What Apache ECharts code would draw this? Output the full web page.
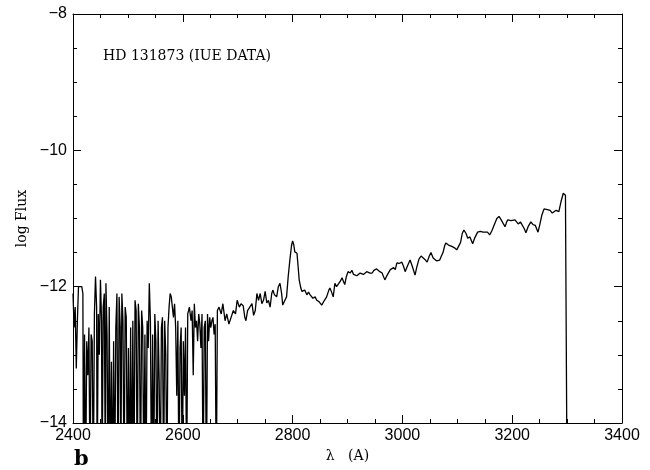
<!DOCTYPE html>
<html>
<head>
<meta charset="utf-8">
<script src="https://cdn.jsdelivr.net/npm/echarts@6/dist/echarts.min.js"></script>
<style>html,body{margin:0;padding:0;background:#fff}#c{width:650px;height:470px}</style>
</head>
<body>
<div id="c"></div>
<script>
// Wavelength (Angstrom) and log flux. -15 = dips below the plot floor.
var noisyWave = [2400,2402,2404,2406,2408,2410,2413,2416,2418,2419,2421,2423,2425,2427,2429,2431,2433,2435,2437,2439,2441,2443,2444,2446,2448,2450,2452,2453,2455,2457,2459,2460,2462,2464,2466,2468,2470,2472,2474,2476,2478,2480,2482,2484,2486,2487,2489,2491,2493,2495,2497,2499,2501,2503,2505,2507,2509,2511,2513,2515,2517,2519,2521,2523,2525,2527,2529,2531,2533,2535,2537,2539,2541,2543,2545,2547,2549,2551,2553,2555,2557,2559,2561,2563,2565,2567,2569,2571,2573,2575,2577,2579,2581,2583,2585,2587,2589,2591,2593,2595,2597,2599,2601,2603,2605,2607,2609,2612,2615,2617,2619,2621,2623,2625,2627,2629,2631,2633,2635,2637,2639,2641,2643,2645,2647,2649,2651,2653,2655,2657,2659,2661,2663];
var noisyFlux = [-12.1,-12.6,-12.3,-13.2,-12.5,-12.0,-12.0,-12.0,-12.1,-15,-12.7,-15,-12.8,-13.3,-12.6,-15,-12.7,-12.8,-15,-12.4,-11.85,-12.3,-15,-12.4,-13.0,-11.9,-12.5,-15,-12.3,-12.1,-15,-11.95,-12.7,-15,-12.3,-15,-13.1,-15,-12.8,-15,-12.6,-12.1,-15,-12.15,-12.6,-15,-12.1,-12.5,-15,-12.3,-12.45,-15,-12.9,-15,-12.6,-15,-12.5,-15,-12.2,-12.35,-15,-12.25,-12.6,-15,-12.35,-12.6,-15,-12.7,-15,-12.5,-12.9,-11.95,-12.5,-15,-12.7,-15,-12.4,-12.8,-15,-12.5,-13.4,-15,-12.6,-12.45,-15,-12.5,-13.0,-15,-12.6,-12.3,-12.1,-12.15,-12.3,-12.45,-12.25,-12.6,-13.6,-12.5,-15,-12.9,-12.6,-15,-12.8,-13.6,-12.6,-15,-12.4,-12.3,-12.5,-12.35,-13.3,-12.25,-12.6,-12.5,-12.8,-12.4,-12.55,-12.9,-12.4,-15,-12.6,-12.5,-15,-12.4,-12.8,-12.45,-12.6,-12.5,-12.45,-12.7,-12.55,-15,-12.35];
var contWave = [2666,2670,2673,2677,2680,2684,2688,2692,2696,2699,2703,2706,2710,2713,2715,2718,2722,2726,2729,2732,2735,2738,2741,2744,2747,2750,2753,2756,2759,2762,2764,2767,2771,2774,2777,2780,2782,2786,2789,2792,2795,2798,2800,2802,2804,2808,2810,2812,2815,2817,2819,2822,2826,2829,2832,2835,2837,2841,2844,2848,2853,2858,2862,2866,2868,2871,2874,2877,2880,2883,2887,2890,2893,2895,2898,2901,2905,2908,2911,2914,2917,2919,2923,2926,2929,2932,2935,2937,2941,2945,2948,2950,2953,2955,2959,2963,2966,2968,2971,2974,2978,2981,2984,2987,2990,2994,2999,3002,3005,3009,3014,3018,3023,3026,3030,3034,3037,3041,3045,3049,3052,3056,3062,3068,3071,3074,3077,3079,3084,3090,3095,3099,3101,3106,3109,3112,3116,3119,3123,3128,3132,3137,3142,3147,3150,3155,3159,3163,3167,3172,3176,3180,3184,3187,3190,3192,3198,3205,3208,3211,3215,3218,3222,3225,3229,3234,3238,3242,3247,3250,3254,3258,3264,3269,3273,3276,3280,3285,3289,3293,3297,3299,3300];
var contFlux = [-12.3,-12.4,-12.25,-12.5,-12.4,-12.55,-12.45,-12.35,-12.4,-12.2,-12.3,-12.25,-12.28,-12.45,-12.5,-12.35,-12.3,-12.25,-12.42,-12.35,-12.1,-12.2,-12.1,-12.25,-12.2,-12.07,-12.24,-12.2,-12.3,-12.1,-12.05,-12.12,-12.15,-12.0,-11.95,-12.1,-12.27,-12.2,-12.15,-11.85,-11.61,-11.4,-11.33,-11.38,-11.49,-11.51,-11.7,-11.9,-12.02,-12.07,-12.08,-12.05,-12.12,-12.08,-12.12,-12.1,-12.17,-12.15,-12.2,-12.22,-12.27,-12.2,-12.15,-12.05,-12.02,-12.08,-12.15,-11.95,-12.0,-12.02,-11.92,-11.87,-11.93,-11.97,-11.85,-11.78,-11.8,-11.76,-11.82,-11.8,-11.84,-11.83,-11.8,-11.78,-11.82,-11.8,-11.78,-11.76,-11.8,-11.8,-11.76,-11.77,-11.74,-11.73,-11.78,-11.8,-11.86,-11.9,-11.85,-11.83,-11.75,-11.74,-11.72,-11.75,-11.65,-11.66,-11.64,-11.7,-11.78,-11.7,-11.61,-11.7,-11.83,-11.72,-11.6,-11.55,-11.54,-11.6,-11.64,-11.55,-11.5,-11.58,-11.62,-11.61,-11.55,-11.5,-11.4,-11.36,-11.39,-11.41,-11.43,-11.46,-11.47,-11.35,-11.22,-11.17,-11.22,-11.29,-11.27,-11.37,-11.28,-11.2,-11.19,-11.2,-11.18,-11.2,-11.24,-11.18,-11.1,-11.0,-10.97,-11.02,-11.08,-11.12,-11.05,-11.02,-11.03,-11.02,-11.05,-11.08,-11.05,-11.07,-11.15,-11.21,-11.12,-11.05,-11.09,-11.1,-11.2,-11.1,-10.95,-10.86,-10.87,-10.88,-10.92,-10.92,-10.88,-10.9,-10.75,-10.63,-10.66,-10.68,-15];
var xTicks = [2400,2600,2800,3000,3200,3400];
var yTicks = [-14,-12,-10,-8];
var titleText = 'HD 131873 (IUE DATA)';
var panelLabel = 'b';

var data = [];
noisyWave.forEach(function(w,i){ data.push([w, noisyFlux[i]]); });
contWave.forEach(function(w,i){ data.push([w, contFlux[i]]); });

var serif = '"DejaVu Serif", "Liberation Serif", serif';
var sans = '"Liberation Sans", Arial, sans-serif';
function axisCommon(){
  return {
    axisLine:{show:true, lineStyle:{color:'#000', width:1}},
    axisTick:{show:true, inside:true, length:8, lineStyle:{color:'#000', width:1}},
    minorTick:{show:true, splitNumber:4, length:4, lineStyle:{color:'#000', width:1}},
    splitLine:{show:false}
  };
}

var chart = echarts.init(document.getElementById('c'), null, {renderer:'canvas'});
chart.setOption({
  animation:false,
  backgroundColor:'#fff',
  grid:{left:73, right:28, top:14, bottom:47, containLabel:false},
  xAxis:[
    Object.assign(axisCommon(), {type:'value', min:xTicks[0], max:xTicks[xTicks.length-1], interval:200, position:'bottom',
      name:'\u03bb   (A)', nameLocation:'middle', nameGap:22, nameTextStyle:{fontFamily:serif, fontSize:14, color:'#000'},
      axisLabel:{show:true, color:'#000', fontFamily:sans, fontSize:16, margin:5,
        formatter:function(v){ return String(v); }}}),
    Object.assign(axisCommon(), {type:'value', min:xTicks[0], max:xTicks[xTicks.length-1], interval:200, position:'top', axisLabel:{show:false}})
  ],
  yAxis:[
    Object.assign(axisCommon(), {type:'value', min:yTicks[0], max:yTicks[yTicks.length-1], interval:2, position:'left',
      name:'log Flux', nameLocation:'middle', nameGap:38, nameRotate:90, nameTextStyle:{fontFamily:serif, fontSize:14, color:'#000'},
      axisLabel:{show:true, color:'#000', fontFamily:sans, fontSize:16, margin:6,
        formatter:function(v){ return v<0 ? '\u2212'+Math.abs(v) : String(v); }}}),
    Object.assign(axisCommon(), {type:'value', min:yTicks[0], max:yTicks[yTicks.length-1], interval:2, position:'right', axisLabel:{show:false}})
  ],
  graphic:[
    {type:'text', left:103, top:49, style:{text:titleText, font:'14px '+serif, fill:'#000'}},
    {type:'text', left:74, top:449, style:{text:panelLabel, font:'bold 21px '+serif, fill:'#000'}}
  ],
  series:[{
    type:'line', xAxisIndex:0, yAxisIndex:0, data:data, showSymbol:false, symbol:'none',
    clip:true, lineStyle:{color:'#000', width:1.3}, silent:true
  }]
});
</script>
</body>
</html>
